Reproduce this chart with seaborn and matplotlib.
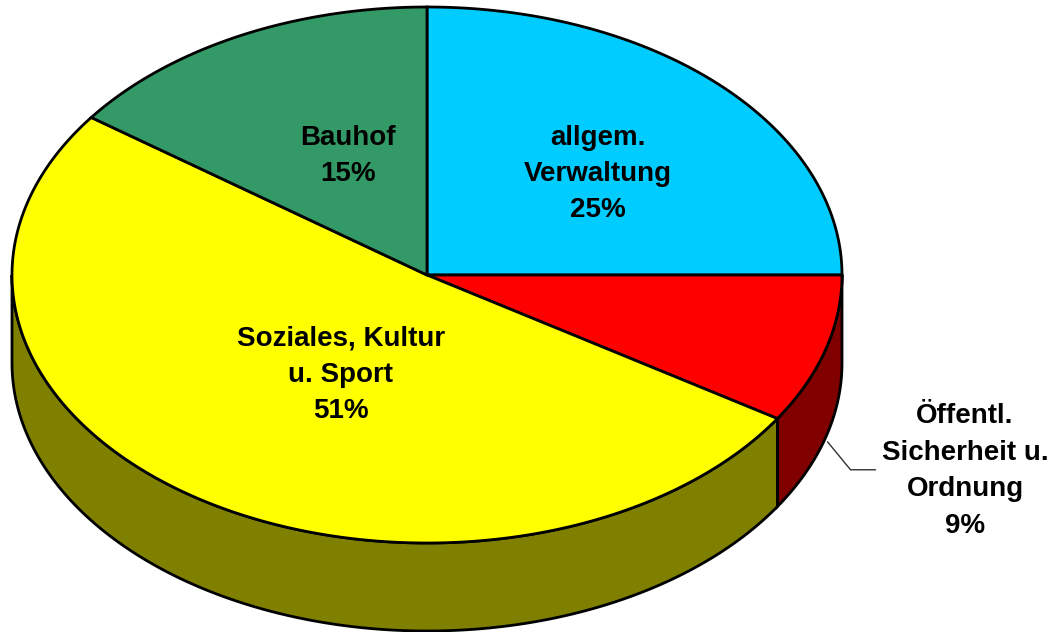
import numpy as np
import seaborn as sns
import matplotlib.pyplot as plt

# data
labels = ["allgem.\nVerwaltung", "Öffentl.\nSicherheit u.\nOrdnung", "Soziales, Kultur\nu. Sport", "Bauhof"]
shares = [25, 9, 51, 15]
top_colors = ["#00CCFF", "#FF0000", "#FFFF00", "#339966"]
side_colors = ["#0066AA", "#800000", "#808000", "#1A4D33"]

sns.set_style("white")
plt.rcParams['font.family'] = ['Liberation Sans', 'DejaVu Sans']
plt.rcParams['text.color'] = 'black'

# geometry of the tilted pie (in pixel-like data units)
cx, cy = 427, 275
rx, ry = 415, 268
depth = 88

fig = plt.figure(figsize=(10.54, 6.32), dpi=100)
ax = fig.add_axes([0, 0, 1, 1])
ax.set_xlim(0, 1054)
ax.set_ylim(632, 0)
ax.set_axis_off()


def ell(t, dy=0):
    r = np.radians(t)
    return cx + rx * np.cos(r), cy - ry * np.sin(r) + dy


# slice angles, clockwise from the top
ends = 90 - 3.6 * np.cumsum(shares)
starts = np.concatenate([[90], ends[:-1]])

# side walls (only the front half, -180..0)
for s, e, col in zip(starts, ends, side_colors):
    lo, hi = max(e, -180), min(s, 0)
    if lo >= hi:
        continue
    t = np.linspace(lo, hi, 200)
    x1, y1 = ell(t)
    x2, y2 = ell(t[::-1], depth)
    ax.fill(np.r_[x1, x2], np.r_[y1, y2], facecolor=col, edgecolor="black",
            linewidth=2, zorder=1)

# top faces
for s, e, col in zip(starts, ends, top_colors):
    t = np.linspace(s, e, 300)
    x, y = ell(t)
    ax.fill(np.r_[cx, x], np.r_[cy, y], facecolor=col, edgecolor="black",
            linewidth=2, zorder=2, joinstyle="miter")

# labels
font = dict(fontsize=20, fontweight="bold", ha="center", va="center",
            linespacing=1.52, color="black", zorder=5)
pcts = [f"{v}%" for v in shares]
ax.text(598, 174, labels[0] + "\n" + pcts[0], **font)
ax.text(348, 156, labels[3] + "\n" + pcts[3], **font)
ax.text(341, 375, labels[2] + "\n" + pcts[2], **font)
ax.text(965, 471, labels[1] + "\n" + pcts[1], **font)

# leader line for the small slice
mid = (starts[1] + ends[1]) / 2
lx, ly = ell(mid, depth)
ax.plot([lx + 2, lx + 25, lx + 50], [ly + 4, ly + 32, ly + 32],
        color="#333333", linewidth=1, zorder=4)

fig.savefig("out.png", dpi=100, facecolor="white")
